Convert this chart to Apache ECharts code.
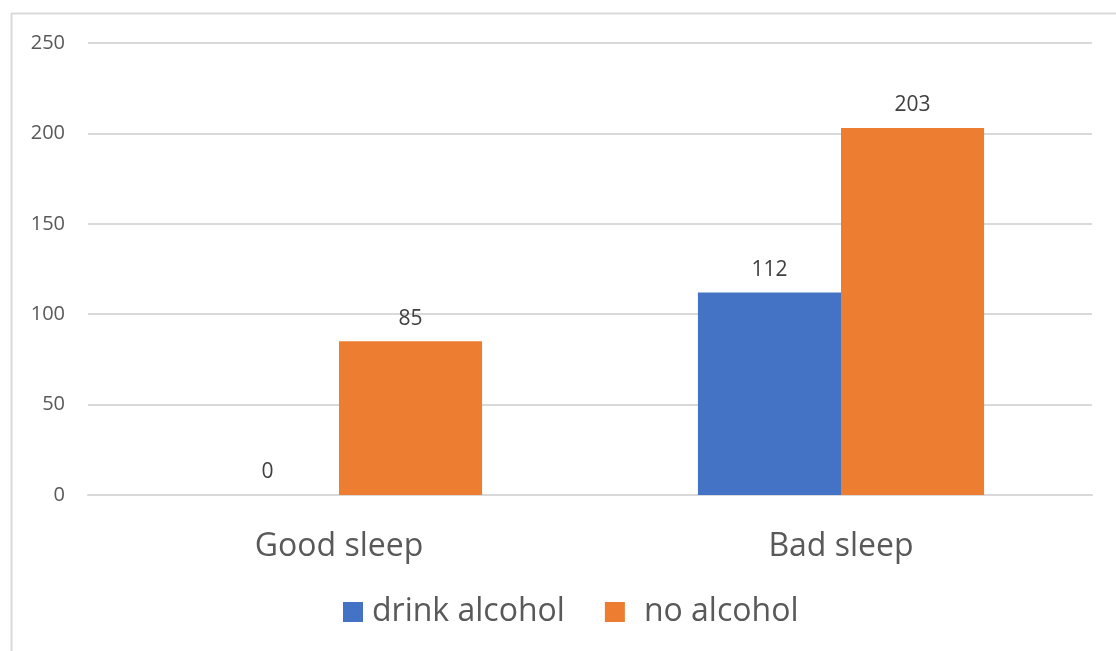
<!DOCTYPE html>
<html><head><meta charset="utf-8">
<script src="https://cdn.jsdelivr.net/npm/echarts@6/dist/echarts.min.js"></script>
<style>html,body{margin:0;padding:0;background:#fff}#c{width:1116px;height:651px}</style>
</head><body><div id="c"></div>
<script>
const categories = ['Good sleep', 'Bad sleep'];
const drinkAlcohol = [0, 112];
const noAlcohol = [85, 203];
const yTicks = [0, 50, 100, 150, 200, 250];

const font = '"Open Sans", "Noto Sans", sans-serif';
const chart = echarts.init(document.getElementById('c'), null, {renderer: 'canvas'});
chart.setOption({
  animation: false,
  backgroundColor: '#fff',
  textStyle: {fontFamily: font},
  grid: {left: 88, right: 24, top: 43, bottom: 156},
  graphic: [
    {type: 'line', shape: {x1: 11.5, y1: 13.5, x2: 11.5, y2: 651}, style: {stroke: '#d9d9d9', lineWidth: 2}},
    {type: 'line', shape: {x1: 11, y1: 13.5, x2: 1116, y2: 13.5}, style: {stroke: '#d9d9d9', lineWidth: 2}}
  ],
  legend: {
    bottom: 18, left: 338,
    itemWidth: 20, itemHeight: 20, itemGap: 40,
    icon: 'rect',
    textStyle: {fontSize: 32, color: '#595959', fontFamily: font, padding: [0, 0, 0, 4]},
    data: [
      {name: 'drink alcohol'},
      {name: 'no alcohol', textStyle: {padding: [0, 0, 0, 14]}}
    ]
  },
  xAxis: {
    type: 'category', data: categories,
    axisLine: {show: true, lineStyle: {color: '#d9d9d9', width: 2}},
    axisTick: {show: false},
    axisLabel: {fontSize: 32, color: '#595959', margin: 36, fontFamily: font}
  },
  yAxis: {
    type: 'value', min: yTicks[0], max: yTicks[yTicks.length - 1], interval: 50,
    axisLine: {show: false}, axisTick: {show: false},
    axisLabel: {fontSize: 20, color: '#595959', margin: 23, fontFamily: font},
    splitLine: {lineStyle: {color: '#d9d9d9', width: 2}}
  },
  series: [
    {name: 'drink alcohol', type: 'bar', data: drinkAlcohol, barGap: '0%', barCategoryGap: '43%',
     itemStyle: {color: '#4472C4'},
     label: {show: true, position: 'top', distance: 12, fontSize: 21, color: '#404040', fontFamily: font}},
    {name: 'no alcohol', type: 'bar', data: noAlcohol, barGap: '0%', barCategoryGap: '43%',
     itemStyle: {color: '#ED7D31'},
     label: {show: true, position: 'top', distance: 12, fontSize: 21, color: '#404040', fontFamily: font}}
  ]
});
</script></body></html>
